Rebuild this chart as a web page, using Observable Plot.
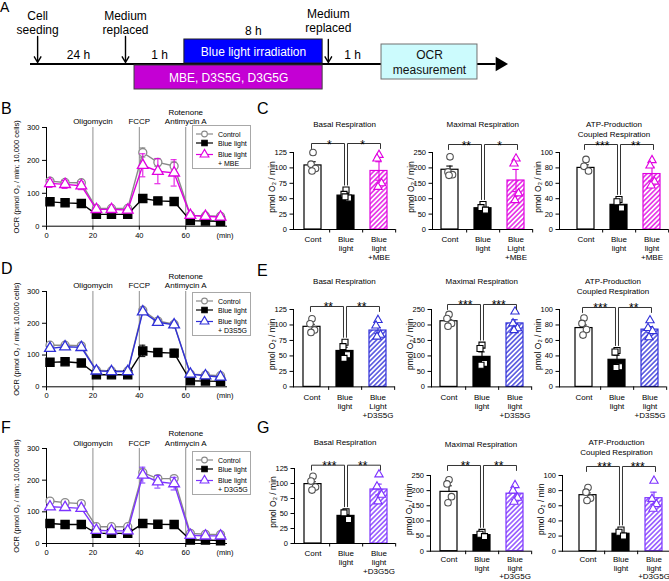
<!DOCTYPE html>
<html><head><meta charset="utf-8">
<script src="https://cdn.jsdelivr.net/npm/d3@7"></script>
<script src="https://cdn.jsdelivr.net/npm/@observablehq/plot@0.6"></script>
<style>
body{margin:0;background:#fff;font-family:"Liberation Sans",Arial,Helvetica,sans-serif;}
#fig{position:relative;width:669px;height:581px;overflow:hidden;background:#fff;}
.letter{position:absolute;line-height:1;color:#000;}
</style></head><body>
<svg width="0" height="0" style="position:absolute">
<defs>
<pattern id="hatch-mbe" patternUnits="userSpaceOnUse" width="3.4" height="3.4" patternTransform="rotate(45)"><rect width="3.4" height="3.4" fill="white"/><line x1="1.7" y1="0" x2="1.7" y2="3.4" stroke="#e000e0" stroke-width="1.3"/></pattern>
<pattern id="hatch-s" patternUnits="userSpaceOnUse" width="3.4" height="3.4" patternTransform="rotate(45)"><rect width="3.4" height="3.4" fill="white"/><line x1="1.7" y1="0" x2="1.7" y2="3.4" stroke="#3030d8" stroke-width="1.3"/></pattern>
<pattern id="hatch-g" patternUnits="userSpaceOnUse" width="3.4" height="3.4" patternTransform="rotate(45)"><rect width="3.4" height="3.4" fill="white"/><line x1="1.7" y1="0" x2="1.7" y2="3.4" stroke="#7d33ff" stroke-width="1.3"/></pattern>
</defs></svg>
<div id="fig"></div>
<script>
// ---------------- DATA ----------------
// Panel A (schematic timeline, schematic units 0-100 along the arrow)
const timelineEvents = ["Cell\nseeding", "Medium\nreplaced", "Medium\nreplaced"];
const timelineEventAt = [1.5, 20, 62.7];
const timelineDurations = ["24 h", "1 h", "8 h", "1 h"];
const timelineDurationAt = [10.1, 27.2, 46.9, 67.8];
const timelineBoxes = ["Blue light irradiation", "MBE, D3S5G, D3G5G", "OCR\nmeasurement"];
const timelineBoxStart = [32.4, 21.9, 73.9];
const timelineBoxEnd = [61.5, 61.5, 94.1];

// OCR time courses (min)
const measureTimes = [1.5, 8, 15, 21.5, 28, 35, 41.5, 48, 55, 62, 68.5, 75];
const drugTimes = [20, 40, 60];
const drugLabels = ["Oligomycin", "FCCP", "Rotenone\nAntimycin A"];
const timeTicks = [0, 20, 40, 60];
const ocrTicks = [0, 100, 200, 300];

const B_control = [137, 133, 132, 54, 54, 54, 224, 194, 183, 33, 31, 30];
const B_controlErr = [8, 8, 6, 4, 4, 4, 14, 12, 12, 3, 3, 3];
const B_blue = [74, 71, 69, 36, 36, 36, 84, 77, 75, 17, 16, 15];
const B_blueErr = [5, 5, 5, 3, 3, 3, 6, 5, 5, 2, 2, 2];
const B_mbe = [130, 127, 123, 51, 51, 49, 185, 167, 162, 33, 30, 28];
const B_mbeErr = [12, 12, 12, 5, 5, 5, 35, 38, 40, 5, 5, 5];

const D_control = [131, 131, 129, 52, 50, 50, 241, 207, 197, 40, 37, 35];
const D_controlErr = [5, 5, 5, 3, 3, 3, 8, 8, 8, 3, 3, 3];
const D_blue = [77, 79, 75, 38, 38, 38, 113, 108, 106, 19, 18, 17];
const D_blueErr = [5, 5, 5, 3, 3, 3, 18, 12, 12, 3, 3, 3];
const D_s5g = [121, 126, 124, 50, 48, 48, 236, 203, 195, 40, 35, 31];
const D_s5gErr = [6, 6, 6, 3, 3, 3, 8, 8, 8, 3, 3, 3];

const F_control = [134, 129, 126, 53, 53, 53, 224, 205, 205, 32, 29, 28];
const F_controlErr = [5, 5, 5, 3, 3, 3, 12, 10, 10, 3, 3, 3];
const F_blue = [63, 60, 60, 32, 32, 32, 63, 61, 60, 11, 11, 9];
const F_blueErr = [3, 3, 3, 2, 2, 2, 4, 4, 4, 2, 2, 2];
const F_g5g = [116, 114, 111, 42, 40, 40, 216, 195, 189, 26, 24, 24];
const F_g5gErr = [6, 6, 6, 3, 3, 3, 25, 20, 20, 3, 3, 3];

// Bar panels: [Cont, Blue light, treated]
const C_basalMean = [104, 55, 95], C_basalErr = [6, 4, 15];
const C_basalPts = [[125, 106, 99, 95], [64, 57, 51, 53], [121, 115, 75, 69]];
const C_maxMean = [194, 69, 159], C_maxErr = [12, 6, 36];
const C_maxPts = [[236, 187, 178, 176], [81, 71, 63], [230, 214, 117, 95]];
const C_atpMean = [80, 32, 72], C_atpErr = [4, 3, 9];
const C_atpPts = [[91, 82, 76], [39, 36, 28], [90, 83, 62, 57]];

const E_basalMean = [97, 58, 91], E_basalErr = [4, 6, 5];
const E_basalPts = [[110, 102, 92, 88], [72, 65, 52, 46], [108, 99, 84, 81]];
const E_maxMean = [212, 97, 205], E_maxErr = [6, 16, 12];
const E_maxPts = [[234, 221, 205, 196], [135, 124, 76, 70], [243, 205, 189, 183]];
const E_atpMean = [76, 35, 74], E_atpErr = [4, 6, 4];
const E_atpPts = [[89, 82, 74, 67], [47, 45, 26, 25], [86, 76, 72, 64]];

const G_basalMean = [99, 46, 90], G_basalErr = [4, 5, 9];
const G_basalPts = [[112, 104, 94, 89], [53, 51, 40], [115, 95, 81, 70]];
const G_maxMean = [196, 53, 190], G_maxErr = [20, 5, 20];
const G_maxPts = [[236, 222, 180, 160], [62, 56, 48], [218, 200, 176, 163]];
const G_atpMean = [74, 23, 70], G_atpErr = [3, 3, 8];
const G_atpPts = [[84, 78, 70, 67], [28, 25, 20], [93, 69, 62, 56]];

const C_stars = [["*", "*"], ["**", "*"], ["***", "**"]];
const E_stars = [["**", "**"], ["***", "***"], ["***", "**"]];
const G_stars = [["***", "**"], ["**", "**"], ["***", "***"]];

// ---------------- LAYOUT / STYLE ----------------
const FONT = "'Liberation Sans', Arial, Helvetica, sans-serif";
const COL_MBE = "#e000e0", COL_S = "#3030d8", COL_G = "#7d33ff";
const fig = document.getElementById("fig");

function place(node, left, top) {
  node.style.position = "absolute";
  node.style.left = left + "px";
  node.style.top = top + "px";
  node.style.overflow = "visible";
  node.style.background = "transparent";
  node.style.maxWidth = "none";
  fig.appendChild(node);
  return node;
}
function letter(t, left, top, size) {
  const d = document.createElement("div");
  d.className = "letter";
  d.textContent = t;
  d.style.left = left + "px"; d.style.top = top + "px"; d.style.fontSize = size + "px";
  fig.appendChild(d);
}

// ---------------- PANEL A ----------------
(function () {
  const eventY = [9.5, 9.5, 7.5];
  const durY = [54.5, 54.5, 31, 54.5];
  const boxY = [[39, 63], [65, 89], [44, 79]];
  const boxFill = ["#0000ff", "#c400d4", "#ccfbfd"];
  const boxStroke = ["#202020", "#404040", "#707070"];
  const boxText = ["white", "white", "#111"];
  const boxes = timelineBoxes.map((label, i) => ({label, s: timelineBoxStart[i], e: timelineBoxEnd[i], i}));
  const marks = [
    Plot.ruleY([63.5], {x1: 0, x2: 98, strokeWidth: 2}),
    Plot.dot([100], {x: d => d - 1.2, y: 63.5, symbol: "triangle", rotate: 90, r: 5.3, fill: "black", stroke: "none"}),
  ];
  boxes.forEach(b => {
    marks.push(Plot.rect([b], {x1: "s", x2: "e", y1: () => boxY[b.i][0], y2: () => boxY[b.i][1], fill: boxFill[b.i], stroke: boxStroke[b.i], strokeWidth: 1}));
    marks.push(Plot.text([b], {x: d => (d.s + d.e) / 2, y: () => (boxY[b.i][0] + boxY[b.i][1]) / 2, text: "label", fill: boxText[b.i], fontSize: 12, lineHeight: 1.25}));
  });
  timelineEvents.forEach((label, i) => {
    marks.push(Plot.text([label], {x: () => timelineEventAt[i], y: () => eventY[i], text: d => d, lineAnchor: "top", fontSize: 12, lineHeight: 1.15}));
    marks.push(Plot.arrow([label], {x: () => timelineEventAt[i], y1: () => i === 2 ? 39 : 36, y2: 62, headLength: 7, strokeWidth: 1.4, stroke: "black"}));
  });
  timelineDurations.forEach((label, i) => {
    marks.push(Plot.text([label], {x: () => timelineDurationAt[i], y: () => durY[i], text: d => d, fontSize: 12}));
  });
  const svg = Plot.plot({
    width: 669, height: 95, margin: 0,
    x: {domain: [0, 100], range: [30, 505], axis: null},
    y: {domain: [0, 95], range: [0, 95], axis: null},
    style: {fontFamily: FONT, background: "transparent", overflow: "visible"},
    marks
  });
  place(svg, 0, 0);
})();

// ---------------- LINE CHARTS ----------------
function lineChart(T, B, series) {
  const L = 46, R = 227, W = 240, mt = 34, mb = 26;
  const height = mt + (B - T) + mb;
  const marks = [
    Plot.ruleX(drugTimes, {x: d => d, y1: 0, y2: 300, stroke: "#8f8f8f", strokeWidth: 1}),
    Plot.text(drugTimes, {x: d => d, y: 300, text: (d, i) => drugLabels[i], lineAnchor: "bottom", dy: -3, fontSize: 8, lineHeight: 1.25}),
    Plot.ruleY([0], {stroke: "black"}),
    Plot.ruleX([0], {y1: 0, y2: 300, stroke: "black"}),
    Plot.axisX({ticks: timeTicks, tickSize: 4, tickPadding: 2, fontSize: 7.5, label: null}),
    Plot.axisY({ticks: ocrTicks, tickSize: 4, tickPadding: 3, fontSize: 7.5, label: "OCR (pmol O₂ / min; 10,000 cells)", labelAnchor: "center", labelArrow: "none", labelOffset: 33}),
    Plot.text(["(min)"], {frameAnchor: "bottom-right", text: d => d, textAnchor: "end", lineAnchor: "top", dy: 6, dx: 6, fontSize: 7.5}),
  ];
  for (const s of series) {
    const data = measureTimes.map((t, i) => ({t, v: s.values[i], e: s.err[i]}));
    marks.push(
      Plot.ruleX(data, {x: "t", y1: d => d.v - d.e, y2: d => d.v + d.e, stroke: s.color, strokeWidth: 1}),
      Plot.ruleY(data, {y: d => d.v + d.e, x1: d => d.t - 1.3, x2: d => d.t + 1.3, stroke: s.color, strokeWidth: 1}),
      Plot.ruleY(data, {y: d => d.v - d.e, x1: d => d.t - 1.3, x2: d => d.t + 1.3, stroke: s.color, strokeWidth: 1}),
      Plot.line(data, {x: "t", y: "v", stroke: s.color, strokeWidth: 1.4}),
      Plot.dot(data, {x: "t", y: "v", symbol: s.symbol, r: s.r, stroke: s.color, fill: s.fill, strokeWidth: 1.3})
    );
  }
  const svg = Plot.plot({
    width: W, height, marginLeft: L, marginRight: W - R, marginTop: mt, marginBottom: mb,
    x: {domain: [0, 78], axis: null}, y: {domain: [0, 300], axis: null},
    style: {fontFamily: FONT, background: "transparent", overflow: "visible"},
    marks
  });
  place(svg, 0, T - mt);
}
function seriesSet(ctrl, ctrlErr, blue, blueErr, treat, treatErr, color) {
  return [
    {values: ctrl, err: ctrlErr, color: "#8a8a8a", symbol: "circle", r: 4, fill: "white"},
    {values: blue, err: blueErr, color: "#000000", symbol: "square", r: 4.6, fill: "#000000"},
    {values: treat, err: treatErr, color, symbol: "triangle", r: 4, fill: "white"}
  ];
}
function legend(top, treatLabel, color) {
  const div = document.createElement("div");
  div.style.cssText = `position:absolute;left:192px;top:${top}px;width:57px;height:42px;border:1px solid #a8a8a8;background:white;`;
  const svg = d3.create("svg").attr("width", 57).attr("height", 42).style("display", "block")
    .style("font-family", FONT).style("font-size", "7px");
  const rows = [
    {y: 8, color: "#8a8a8a", sym: d3.symbolCircle, size: 26, fill: "white", lines: ["Control"]},
    {y: 17, color: "#000", sym: d3.symbolSquare, size: 30, fill: "#000", lines: ["Blue light"]},
    {y: 28.5, color, sym: d3.symbolTriangle, size: 34, fill: "white", lines: ["Blue light", treatLabel]},
  ];
  rows.forEach(r => {
    svg.append("line").attr("x1", 3).attr("x2", 20).attr("y1", r.y).attr("y2", r.y).attr("stroke", r.color).attr("stroke-width", 1.2);
    svg.append("path").attr("d", d3.symbol(r.sym, r.size)()).attr("transform", `translate(11.5,${r.y})`)
      .attr("fill", r.fill).attr("stroke", r.color).attr("stroke-width", 1.1);
    r.lines.forEach((t, j) => svg.append("text").attr("x", 25).attr("y", r.y + j * 9 + 2.5).text(t));
  });
  div.appendChild(svg.node());
  fig.appendChild(div);
}

lineChart(127.3, 226, seriesSet(B_control, B_controlErr, B_blue, B_blueErr, B_mbe, B_mbeErr, COL_MBE));
lineChart(290.7, 386, seriesSet(D_control, D_controlErr, D_blue, D_blueErr, D_s5g, D_s5gErr, COL_S));
lineChart(448.3, 543.3, seriesSet(F_control, F_controlErr, F_blue, F_blueErr, F_g5g, F_g5gErr, COL_G));
legend(125, "+ MBE", COL_MBE);
legend(292, "+ D3S5G", COL_S);
legend(451, "+ D3G5G", COL_G);

// ---------------- BAR CHARTS ----------------
function barChart(c) {
  const keys = ["c", "b", "t"];
  const ml = 45, mr = 4, mt = 40, mb = 42, span = 100, step = span / 3;
  const fh = c.B - c.T;
  const width = ml + c.inset + span + mr, height = mt + fh + mb;
  const u = c.ymax / fh;
  const bars = keys.map((k, i) => ({k, v: c.mean[i], e: c.err[i]}));
  const hy = c.ymax + c.gap * u;
  const drop = hy - 5 * u;
  const mid = Math.max(...c.pts[1], c.mean[1] + c.err[1]) + 5 * u;
  const bracketL = [{k: "c", y: drop}, {k: "c", y: hy}, {k: "b", y: hy}, {k: "b", y: mid}];
  const bracketR = [{k: "b", y: mid}, {k: "b", y: hy}, {k: "t", y: hy}, {k: "t", y: drop}];
  const fills = {c: "white", b: "black", t: `url(#${c.hatch})`};
  const strokes = {c: "black", b: "black", t: c.color};
  const sym = {c: ["circle", 3.3, "#505050"], b: ["square", 3.4, "black"], t: ["triangle", 3.1, c.color]};
  const jit = [0, -2, 2.5, -1];
  const marks = [];
  keys.forEach((k, i) => {
    const bar = bars[i];
    marks.push(Plot.barY([bar], {x: "k", y: "v", fill: fills[k], stroke: strokes[k], strokeWidth: 1.2}));
    marks.push(Plot.ruleX([bar], {x: "k", y1: d => k === "t" ? d.v - d.e : d.v, y2: d => d.v + d.e, stroke: strokes[k], strokeWidth: 1.1}));
    marks.push(Plot.tickY([bar], {x: "k", y: d => d.v + d.e, stroke: strokes[k], strokeWidth: 1.1, insetLeft: 5.3, insetRight: 5.3}));
    if (k === "t") marks.push(Plot.tickY([bar], {x: "k", y: d => d.v - d.e, stroke: strokes[k], strokeWidth: 1.1, insetLeft: 5.3, insetRight: 5.3}));
    c.pts[i].forEach((v, j) => {
      marks.push(Plot.dot([{k, v}], {x: "k", y: "v", dx: jit[j], symbol: sym[k][0], r: sym[k][1], stroke: sym[k][2], fill: "white", strokeWidth: 1.1}));
    });
  });
  marks.push(
    Plot.ruleY([0], {stroke: "black"}),
    Plot.frame({anchor: "left", stroke: "black"}),
    Plot.ruleX(keys, {x: d => d, y1: 0, y2: -3.5 * u, dx: step / 2, stroke: "black"}),
    Plot.axisY({ticks: d3.range(0, c.ymax + 1e-9, c.step), tickSize: 3.5, tickPadding: 3, fontSize: 7.5, label: null}),
    Plot.text(["pmol O₂ / min"], {frameAnchor: "left", text: d => d, rotate: -90, textAnchor: "middle", lineAnchor: "middle", dx: -21.5, dy: -4, fontSize: 8.5}),
    Plot.text(keys, {x: d => d, y: 0, text: (d, i) => c.labels[i], lineAnchor: "top", dy: c.labelDy, fontSize: 8, lineHeight: 1.12}),
    Plot.line(bracketL, {x: "k", y: "y", dx: -1.5, stroke: "#333", strokeWidth: 1}),
    Plot.line(bracketR, {x: "k", y: "y", dx: 1.5, stroke: "#333", strokeWidth: 1}),
    Plot.text([c.stars[0]], {x: () => "b", y: () => hy, text: d => d, dx: -step / 2, lineAnchor: "bottom", dy: 5, fontSize: 12}),
    Plot.text([c.stars[1]], {x: () => "b", y: () => hy, text: d => d, dx: step / 2, lineAnchor: "bottom", dy: 5, fontSize: 12}),
    Plot.text([c.title], {frameAnchor: "top", text: d => d, lineAnchor: "top", dy: c.titleY - 3.5 - c.T, fontSize: 8, lineHeight: 1.17})
  );
  const svg = Plot.plot({
    width, height, marginLeft: ml, marginRight: mr, marginTop: mt, marginBottom: mb,
    x: {type: "band", domain: keys, paddingInner: 0.5, paddingOuter: 0.25, insetLeft: c.inset, axis: null},
    y: {domain: [0, c.ymax], axis: null},
    style: {fontFamily: FONT, background: "transparent", overflow: "visible"},
    marks
  });
  place(svg, c.L - ml, c.T - mt);
}

const lbl = (t) => ["Cont", "Blue\nlight", t];
const rows = [
  {T: 152.3, B: 229.3, tY: 124, hatch: "hatch-mbe", color: COL_MBE, stars: C_stars,
   panels: [
     {L: 293, inset: 2, gap: 9, ymax: 125, step: 25, title: "Basal Respiration", mean: C_basalMean, err: C_basalErr, pts: C_basalPts, labels: lbl("Blue\nlight\n+MBE")},
     {L: 431.7, inset: 0.5, gap: 8, ymax: 250, step: 50, title: "Maximal Respiration", mean: C_maxMean, err: C_maxErr, pts: C_maxPts, labels: lbl("Blue\nLight\n+MBE")},
     {L: 559.3, inset: 9, gap: 8, ymax: 100, step: 20, title: "ATP-Production\nCoupled Respiration", mean: C_atpMean, err: C_atpErr, pts: C_atpPts, labels: lbl("Blue\nlight\n+MBE")}]},
  {T: 309.3, B: 386.7, tY: 281, hatch: "hatch-s", color: COL_S, stars: E_stars,
   panels: [
     {L: 293.3, inset: 1.7, gap: 3, ymax: 125, step: 25, title: "Basal Respiration", mean: E_basalMean, err: E_basalErr, pts: E_basalPts, labels: lbl("Blue\nLight\n+D3S5G")},
     {L: 431, inset: 0.5, gap: 5, ymax: 250, step: 50, title: "Maximal Respiration", mean: E_maxMean, err: E_maxErr, pts: E_maxPts, labels: lbl("Blue\nlight\n+D3S5G")},
     {L: 559.3, inset: 7, gap: 2, ymax: 100, step: 20, title: "ATP-Production\nCoupled Respiration", mean: E_atpMean, err: E_atpErr, pts: E_atpPts, labels: lbl("Blue\nlight\n+D3S5G")}]},
  {T: 468.3, B: 543.3, tY: 442, hatch: "hatch-g", color: COL_G, stars: G_stars,
   panels: [
     {L: 294, inset: 1, gap: 3.3, ymax: 125, step: 25, title: "Basal Respiration", mean: G_basalMean, err: G_basalErr, pts: G_basalPts, labels: lbl("Blue\nlight\n+D3G5G")},
     {L: 430, T: 475, B: 550.7, tY: 443, labelDy: 4, inset: 1, gap: 10, ymax: 250, step: 50, title: "Maximal Respiration", mean: G_maxMean, err: G_maxErr, pts: G_maxPts, labels: lbl("Blue\nlight\n+D3G5G")},
     {L: 561.7, T: 475, B: 550.7, tY: 441.7, labelDy: 4, inset: 8, gap: 9, ymax: 100, step: 20, title: "ATP-Production\nCoupled Respiration", mean: G_atpMean, err: G_atpErr, pts: G_atpPts, labels: lbl("Blue\nlight\n+D3G5G")}]},
];
rows.forEach(r => r.panels.forEach((p, i) => barChart({
  ...p, T: p.T ?? r.T, B: p.B ?? r.B, titleY: p.tY ?? r.tY, labelDy: p.labelDy ?? 6.5,
  hatch: r.hatch, color: r.color, stars: r.stars[i]
})));

// ---------------- PANEL LETTERS ----------------
letter("A", 0, 0, 14);
letter("B", 1, 101, 16);
letter("C", 257, 101, 16);
letter("D", 1, 261, 16);
letter("E", 257, 263, 16);
letter("F", 1, 420, 16);
letter("G", 257, 420, 16);
</script></body></html>
